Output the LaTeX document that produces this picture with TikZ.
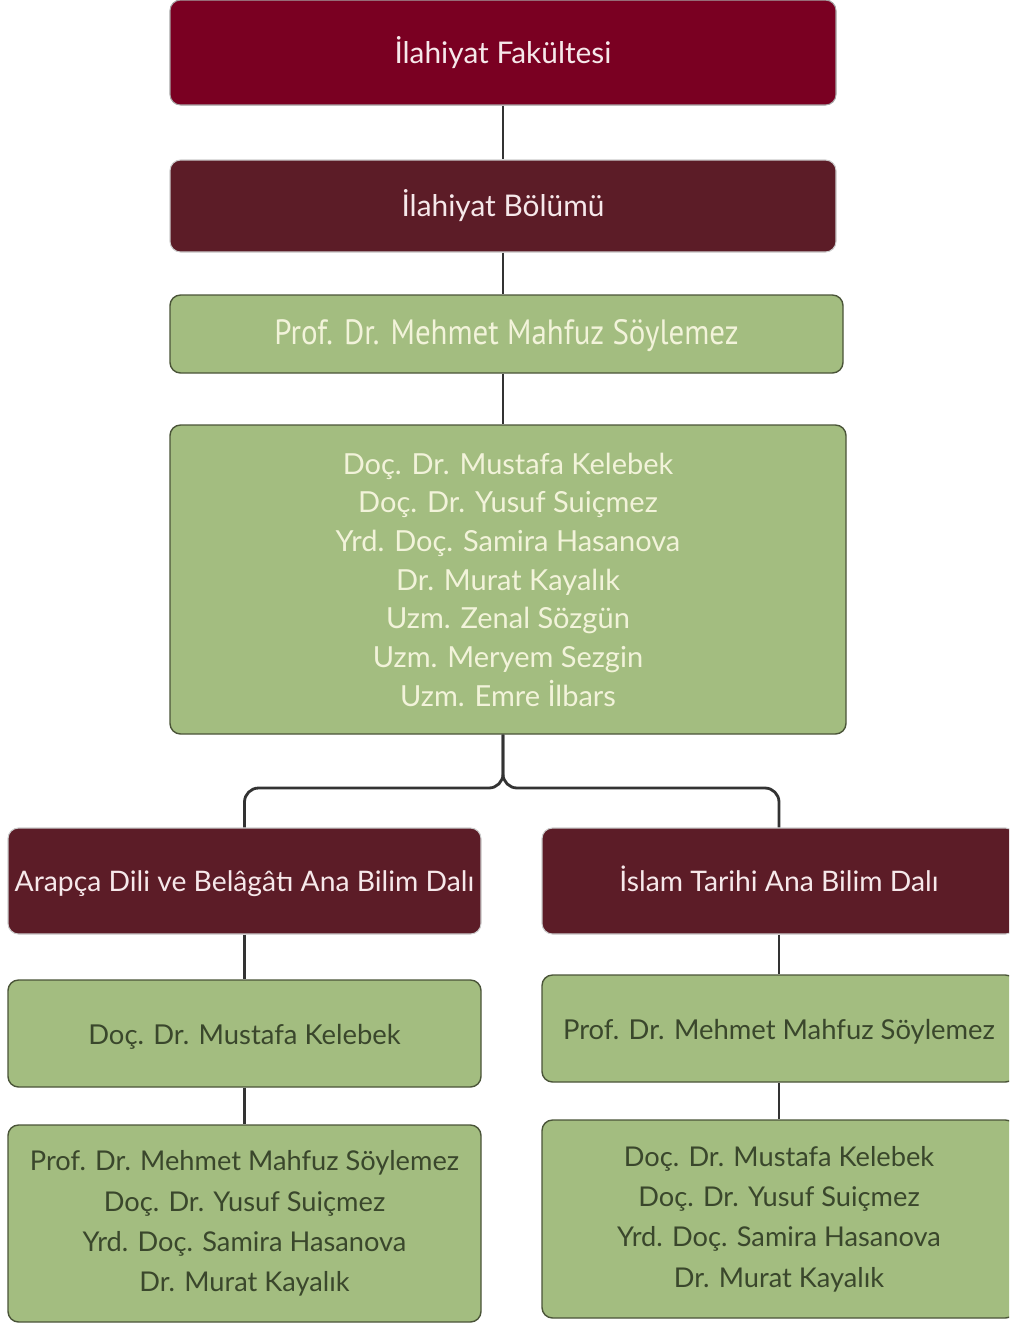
\documentclass[tikz,border=0pt]{standalone}
\usepackage{fontspec}
\setmainfont{Lato}
\newfontfamily\condfont[FakeStretch=0.88]{PT Sans}
\usetikzlibrary{calc}
\definecolor{fakred}{HTML}{7A0022}
\definecolor{wine}{HTML}{5C1C27}
\definecolor{sage}{HTML}{A3BD80}
\definecolor{sageline}{HTML}{4A5438}
\definecolor{sagetext}{HTML}{3A472C}
\definecolor{cream}{HTML}{F2F3DA}
\definecolor{pinkwhite}{HTML}{F6E8EA}
\tikzset{
  redbox/.style={fill=fakred,draw=black!35,line width=0.6pt,rounded corners=6pt,text=pinkwhite},
  winebox/.style={fill=wine,draw=black!20,line width=0.6pt,rounded corners=6pt,text=pinkwhite},
  sagebox/.style={fill=sage,draw=sageline,line width=0.8pt,rounded corners=6pt,text=sagetext},
  lightsage/.style={sagebox,text=cream},
  oneline/.style={text height=16pt,text depth=3.5pt},
  bigtext/.style={font=\fontsize{17}{20}\selectfont,oneline},
  condtext/.style={font=\fontsize{20}{22}\condfont,oneline},
  listtext/.style={font=\fontsize{16.5}{22}\selectfont},
  dalitext/.style={font=\fontsize{16.1}{20}\selectfont,text height=15pt,text depth=3.5pt},
  smalltext/.style={font=\fontsize{15.6}{20}\selectfont,oneline},
  smalllist/.style={font=\fontsize{15.5}{23}\selectfont},
  conn/.style={draw=black!80,line width=1.6pt}
}
% #1 name, #2 style, #3 #4 centre (px), #5 #6 size (px), #7 text
\newcommand\OrgBox[7]{
  \node[#2,minimum width=#5*0.02cm,minimum height=#6*0.02cm,inner sep=0pt,align=center] (#1) at (#3,#4) {#7};
}

\begin{document}
\begin{tikzpicture}[x=0.02cm,y=-0.02cm]
\useasboundingbox (0,0) rectangle (1009,1323);
\clip (0,0) rectangle (1009,1323);
\OrgBox{fak}{redbox,bigtext}{503}{52.5}{666}{105}{İlahiyat Fakültesi}
\OrgBox{bol}{winebox,bigtext}{503}{206}{666}{92}{İlahiyat Bölümü}
\OrgBox{bas}{lightsage,condtext}{506.5}{334}{673}{78}{Prof. Dr. Mehmet Mahfuz Söylemez}
\OrgBox{kadro}{lightsage,listtext}{508}{579.5}{676}{309}{Doç. Dr. Mustafa Kelebek\\ Doç. Dr. Yusuf Suiçmez\\ Yrd. Doç. Samira Hasanova\\ Dr. Murat Kayalık\\ Uzm. Zenal Sözgün\\ Uzm. Meryem Sezgin\\ Uzm. Emre İlbars}
\OrgBox{arap}{winebox,dalitext}{244.5}{881}{473}{106}{Arapça Dili ve Belâgâtı Ana Bilim Dalı}
\OrgBox{tarih}{winebox,dalitext}{779}{881}{474}{106}{İslam Tarihi Ana Bilim Dalı}
\OrgBox{arapbas}{sagebox,smalltext}{244.5}{1033.5}{473}{107}{Doç. Dr. Mustafa Kelebek}
\OrgBox{tarihbas}{sagebox,smalltext}{779}{1028.5}{474}{107}{Prof. Dr. Mehmet Mahfuz Söylemez}
\OrgBox{arapkadro}{sagebox,smalllist}{244.5}{1223.5}{473}{197}{Prof. Dr. Mehmet Mahfuz Söylemez\\ Doç. Dr. Yusuf Suiçmez\\ Yrd. Doç. Samira Hasanova\\ Dr. Murat Kayalık}
\OrgBox{tarihkadro}{sagebox,smalllist}{779}{1219}{474}{198}{Doç. Dr. Mustafa Kelebek\\ Doç. Dr. Yusuf Suiçmez\\ Yrd. Doç. Samira Hasanova\\ Dr. Murat Kayalık}
\coordinate (split) at (503,788);
\draw[conn] (fak) -- (bol);
\draw[conn] (bol.south) -- (bol.south |- bas.north);
\draw[conn] (split |- bas.south) -- (split |- kadro.north);
\draw[conn,rounded corners=8pt] (split |- kadro.south) -- (split) -| (arap.north);
\draw[conn,rounded corners=8pt] (split |- kadro.south) -- (split) -| (tarih.north);
\draw[conn] (arap) -- (arapbas);
\draw[conn] (arapbas) -- (arapkadro);
\draw[conn] (tarih) -- (tarihbas);
\draw[conn] (tarihbas) -- (tarihkadro);
\end{tikzpicture}
\end{document}
